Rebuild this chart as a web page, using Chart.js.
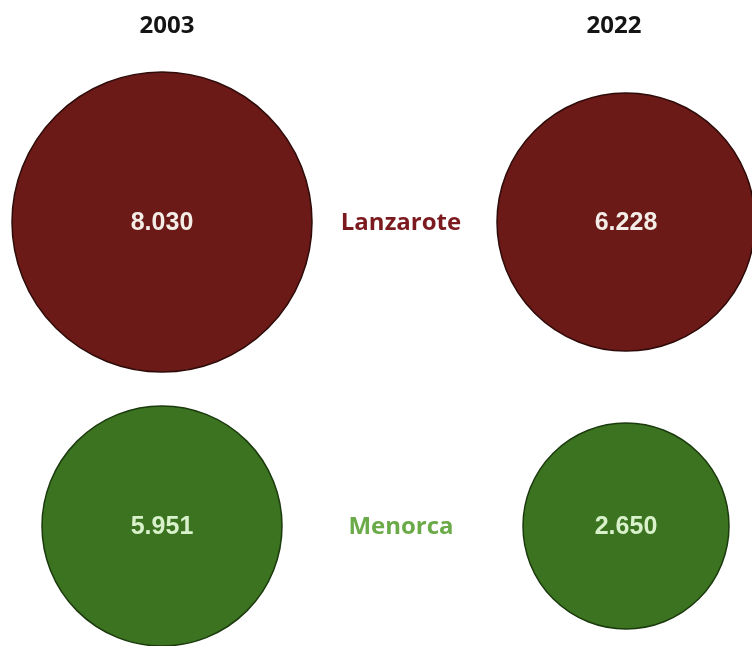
<!DOCTYPE html>
<html>
<head>
<meta charset="utf-8">
<script src="https://cdn.jsdelivr.net/npm/chart.js@4/dist/chart.umd.min.js"></script>
<style>
  html, body { margin: 0; padding: 0; background: #ffffff; }
  #wrap { width: 752px; height: 646px; }
</style>
</head>
<body>
<div id="wrap"><canvas id="c" width="752" height="646"></canvas></div>
<script>
// ---- data ----
const years = ['2003', '2022'];
const islands = ['Lanzarote', 'Menorca'];
const lanzarote = [8030, 6228];
const menorca = [5951, 2650];

// ---- styling (bubble radius in px, per island / per year) ----
const radiusStyle = { Lanzarote: [150, 129], Menorca: [120, 103] };
const fillColors = { Lanzarote: '#6B1A17', Menorca: '#3B7320' };
const edgeColors = { Lanzarote: '#2e0b09', Menorca: '#1b3a0d' };
const valueTextColors = { Lanzarote: '#f4ece6', Menorca: '#d9f1cb' };
const labelColors = { Lanzarote: '#7C1B1F', Menorca: '#6BAA48' };

function fmt(v) {
  const th = Math.floor(v / 1000);
  const rest = String(v % 1000).padStart(3, '0');
  return th > 0 ? th + '.' + rest : String(v);
}

const seriesValues = { Lanzarote: lanzarote, Menorca: menorca };

const datasets = islands.map(name => ({
  label: name,
  data: years.map((yr, i) => ({ x: yr, y: name, v: seriesValues[name][i] })),
  backgroundColor: fillColors[name],
  borderColor: edgeColors[name],
  borderWidth: 1.5,
  radius: ctx => radiusStyle[name][ctx.dataIndex],
  hoverRadius: 0,
  clip: false
}));

const labelPlugin = {
  id: 'labelPlugin',
  afterDatasetsDraw(chart) {
    const ctx = chart.ctx;
    const xs = chart.scales.x, ys = chart.scales.y;
    ctx.save();
    ctx.textAlign = 'center';
    ctx.textBaseline = 'middle';
    // values inside bubbles
    chart.data.datasets.forEach((ds, di) => {
      const meta = chart.getDatasetMeta(di);
      meta.data.forEach((el, i) => {
        ctx.font = 'bold 25px "Liberation Sans", Arial, sans-serif';
        ctx.fillStyle = valueTextColors[ds.label];
        ctx.fillText(fmt(ds.data[i].v), el.x, el.y + 1);
      });
    });
    // year headers
    ctx.font = 'bold 24px "Open Sans", "DejaVu Sans", sans-serif';
    ctx.fillStyle = '#141414';
    years.forEach((yr, i) => {
      ctx.fillText(yr, xs.getPixelForValue(i) + (i === 0 ? 5 : -12), 26);
    });
    // island labels between columns
    const midX = (xs.getPixelForValue(0) + xs.getPixelForValue(1)) / 2 + 7;
    islands.forEach((name, i) => {
      ctx.font = 'bold 24px "Open Sans", "DejaVu Sans", sans-serif';
      ctx.fillStyle = labelColors[name];
      ctx.fillText(name, midX, ys.getPixelForValue(i) + 1);
    });
    ctx.restore();
  }
};

new Chart(document.getElementById('c'), {
  type: 'bubble',
  data: { datasets },
  options: {
    responsive: false,
    animation: false,
    events: [],
    layout: { autoPadding: false, padding: { left: 162, right: 126, top: 222, bottom: 120 } },
    scales: {
      x: { type: 'category', labels: years, offset: false, display: false },
      y: { type: 'category', labels: islands, offset: false, display: false }
    },
    plugins: {
      legend: { display: false },
      tooltip: { enabled: false }
    }
  },
  plugins: [labelPlugin]
});
</script>
</body>
</html>
